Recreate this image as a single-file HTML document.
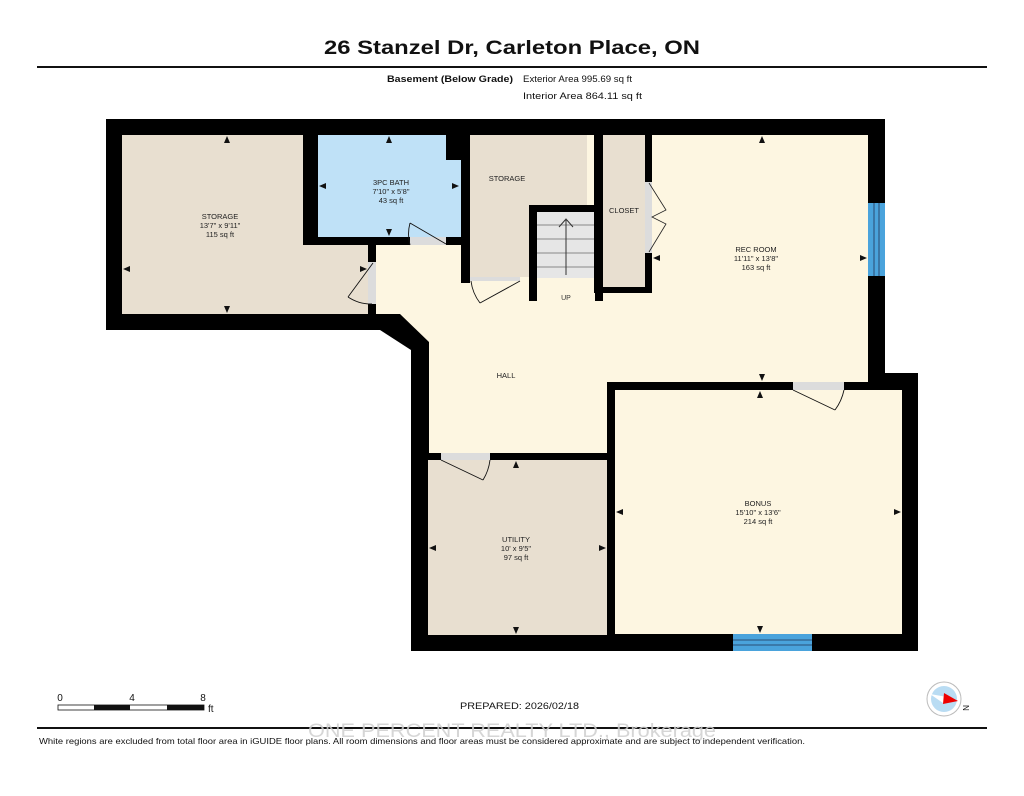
<!DOCTYPE html>
<html><head><meta charset="utf-8"><style>
html,body{margin:0;padding:0;background:#fff;}
body{width:1024px;height:791px;overflow:hidden;font-family:"Liberation Sans",Arial,sans-serif;}
</style></head><body>
<svg width="1024" height="791" viewBox="0 0 1024 791" xmlns="http://www.w3.org/2000/svg" font-family="Liberation Sans, Arial, sans-serif">
<rect width="1024" height="791" fill="#fff"/>
<text x="324" y="54" font-size="19" font-weight="bold" fill="#111" textLength="376" lengthAdjust="spacingAndGlyphs">26 Stanzel Dr, Carleton Place, ON</text>
<rect x="37" y="66" width="950" height="2" fill="#111"/>
<text x="387" y="82" font-size="9" font-weight="bold" fill="#111" textLength="126" lengthAdjust="spacingAndGlyphs">Basement (Below Grade)</text>
<text x="523" y="82" font-size="9.5" fill="#111" textLength="109" lengthAdjust="spacingAndGlyphs">Exterior Area 995.69 sq ft</text>
<text x="523" y="99" font-size="9.5" fill="#111" textLength="119" lengthAdjust="spacingAndGlyphs">Interior Area 864.11 sq ft</text>

<polygon points="106,119 885,119 885,373 918,373 918,651 411,651 411,350 380,330 106,330" fill="#000"/>
<polygon points="375,245 470,245 470,135 868,135 868,382 607,382 607,453 429,453 429,342 400,314 375,314" fill="#fdf6e1"/>
<rect x="122" y="135" width="246" height="179" fill="#e8dfd0"/>
<rect x="303" y="135" width="167" height="110" fill="#000"/>
<rect x="318" y="135" width="128" height="102" fill="#bfe1f7"/>
<rect x="446" y="160" width="15" height="77" fill="#bfe1f7"/>
<rect x="368" y="237" width="8" height="77" fill="#000"/>
<rect x="368" y="262" width="8" height="42" fill="#dcdcdc"/>
<rect x="461" y="135" width="9" height="148" fill="#000"/>
<rect x="470" y="135" width="117" height="142" fill="#e8dfd0"/>
<rect x="470" y="277" width="50" height="4" fill="#dcdcdc"/>
<rect x="529" y="205" width="74" height="96" fill="#000"/>
<rect x="537" y="212" width="58" height="66" fill="#e6e6e6"/>
<rect x="537" y="278" width="58" height="23" fill="#fdf6e1"/>
<g stroke="#888" stroke-width="1">
<line x1="537" y1="225" x2="595" y2="225"/><line x1="537" y1="239" x2="595" y2="239"/><line x1="537" y1="253" x2="595" y2="253"/><line x1="537" y1="267" x2="595" y2="267"/>
</g>
<line x1="566" y1="275" x2="566" y2="220" stroke="#333"/>
<polyline points="559,227 566,219 573,227" fill="none" stroke="#333"/>
<text x="566" y="300" text-anchor="middle" font-size="7" fill="#333">UP</text>
<rect x="594" y="135" width="58" height="158" fill="#000"/>
<rect x="603" y="135" width="42" height="152" fill="#e8dfd0"/>
<rect x="645" y="182" width="7" height="71" fill="#dcdcdc"/>
<polyline points="649,183 666,210 652,217 666,224 649,252" fill="none" stroke="#222" stroke-width="0.8"/>
<rect x="868" y="203" width="17" height="73" fill="#4aa3dc"/>
<line x1="874" y1="203" x2="874" y2="276" stroke="#235" stroke-width="0.8"/><line x1="879" y1="203" x2="879" y2="276" stroke="#235" stroke-width="0.8"/>
<rect x="411" y="453" width="204" height="7" fill="#000"/>
<rect x="607" y="382" width="8" height="260" fill="#000"/>
<rect x="607" y="382" width="295" height="8" fill="#000"/>
<rect x="428" y="460" width="179" height="175" fill="#e8dfd0"/>
<rect x="615" y="390" width="287" height="244" fill="#fdf6e1"/>
<rect x="733" y="634" width="79" height="17" fill="#4aa3dc"/>
<line x1="733" y1="640" x2="812" y2="640" stroke="#235" stroke-width="0.8"/><line x1="733" y1="645" x2="812" y2="645" stroke="#235" stroke-width="0.8"/>
<g fill="#dcdcdc">
<rect x="410" y="237" width="36" height="8"/>
<rect x="441" y="453" width="49" height="7"/>
<rect x="793" y="382" width="51" height="8"/>
</g>
<g fill="none" stroke="#111" stroke-width="0.9">
<path d="M410,223 L446,244 M410,223 A42,42 0 0 0 410,245"/>
<path d="M441,460 L483,480 M483,480 A49,49 0 0 0 490,460"/>
<path d="M793,390 L835,410 M835,410 A51,51 0 0 0 844,390"/>
<path d="M373,263 L348,297 M348,297 A42,42 0 0 0 372,304"/>
<path d="M520,281 L480,303 M480,303 A45,45 0 0 1 471,281"/>
</g>
<g fill="#111">
<polygon points="227,136 230,143 224,143"/><polygon points="227,313 230,306 224,306"/>
<polygon points="123,269 130,266 130,272"/><polygon points="367,269 360,266 360,272"/>
<polygon points="389,136 392,143 386,143"/><polygon points="389,236 392,229 386,229"/>
<polygon points="319,186 326,183 326,189"/><polygon points="459,186 452,183 452,189"/>
<polygon points="762,136 765,143 759,143"/><polygon points="762,381 765,374 759,374"/>
<polygon points="653,258 660,255 660,261"/><polygon points="867,258 860,255 860,261"/>
<polygon points="760,391 763,398 757,398"/><polygon points="760,633 763,626 757,626"/>
<polygon points="616,512 623,509 623,515"/><polygon points="901,512 894,509 894,515"/>
<polygon points="516,461 519,468 513,468"/><polygon points="516,634 519,627 513,627"/>
<polygon points="429,548 436,545 436,551"/><polygon points="606,548 599,545 599,551"/>
</g>
<g font-size="7.5" fill="#222" text-anchor="middle">
<text x="220" y="219">STORAGE</text><text x="220" y="228">13'7" x 9'11"</text><text x="220" y="237">115 sq ft</text>
<text x="391" y="185">3PC BATH</text><text x="391" y="194">7'10" x 5'8"</text><text x="391" y="203">43 sq ft</text>
<text x="507" y="181">STORAGE</text>
<text x="624" y="213">CLOSET</text>
<text x="756" y="252">REC ROOM</text><text x="756" y="261">11'11" x 13'8"</text><text x="756" y="270">163 sq ft</text>
<text x="506" y="378">HALL</text>
<text x="758" y="506">BONUS</text><text x="758" y="515">15'10" x 13'6"</text><text x="758" y="524">214 sq ft</text>
<text x="516" y="542">UTILITY</text><text x="516" y="551">10' x 9'5"</text><text x="516" y="560">97 sq ft</text>
</g>
<g font-size="10" fill="#111">
<text x="60" y="701" text-anchor="middle">0</text><text x="132" y="701" text-anchor="middle">4</text><text x="203" y="701" text-anchor="middle">8</text>
<text x="208" y="712">ft</text>
</g>
<rect x="58" y="705" width="146" height="5" fill="#fff" stroke="#111" stroke-width="0.8"/>
<rect x="94" y="705" width="36" height="5" fill="#111"/><rect x="167" y="705" width="37" height="5" fill="#111"/>
<text x="460" y="709" font-size="9" fill="#111" textLength="119" lengthAdjust="spacingAndGlyphs">PREPARED: 2026/02/18</text>
<circle cx="944" cy="699" r="17" fill="#fff" stroke="#bbb" stroke-width="1"/>
<circle cx="944" cy="699" r="13" fill="#b9dcf3"/>
<polygon points="930,694 947,697 943,703" fill="#fff"/>
<polygon points="944,693 958,701 943,704" fill="#e00"/>
<text x="966" y="708" font-size="8" fill="#111" transform="rotate(90 966 705)">N</text>
<rect x="37" y="727" width="950" height="2" fill="#111"/>
<text x="308" y="737" font-size="19" fill="#d0d0d0" opacity="0.85" textLength="408" lengthAdjust="spacingAndGlyphs">ONE PERCENT REALTY LTD., Brokerage</text>
<text x="39" y="744" font-size="8.5" fill="#111" textLength="766" lengthAdjust="spacingAndGlyphs">White regions are excluded from total floor area in iGUIDE floor plans. All room dimensions and floor areas must be considered approximate and are subject to independent verification.</text>
</svg>
</body></html>
